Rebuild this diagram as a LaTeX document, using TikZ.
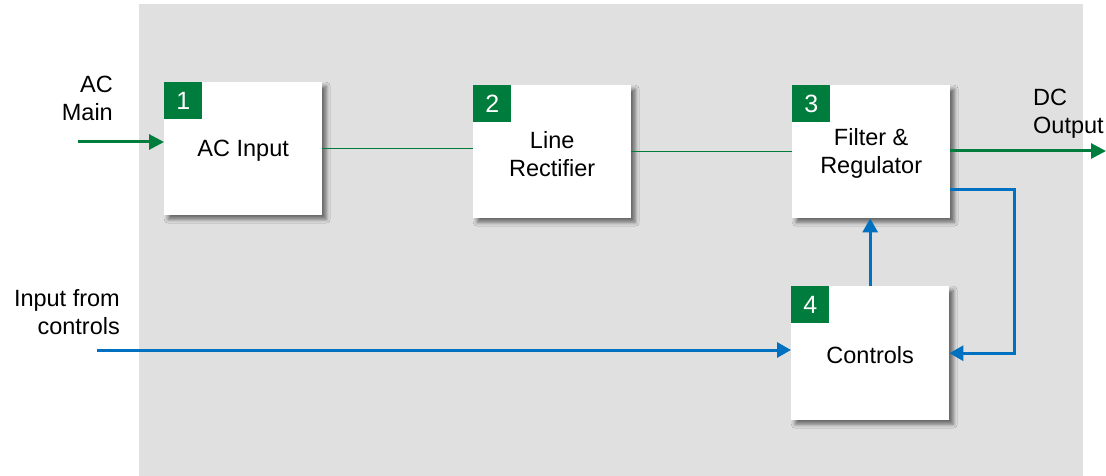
\documentclass[tikz,border=0pt]{standalone}
\usepackage{fontspec}
\setmainfont{Liberation Sans}
\usetikzlibrary{arrows.meta,shadows.blur,calc}
\definecolor{bggray}{HTML}{E0E0E0}
\definecolor{sgreen}{HTML}{007C3C}
\definecolor{sblue}{HTML}{0070C0}
\tikzset{
  blockbox/.style={draw=none,fill=white,minimum width=158pt,minimum height=133pt,inner sep=0pt,anchor=north west,
    blur shadow={shadow xshift=4pt,shadow yshift=-4pt,shadow blur radius=4pt,shadow opacity=55}},
  badge/.style={fill=sgreen,text=white,minimum width=38pt,minimum height=37pt,inner sep=0pt,anchor=north west,
    font=\fontsize{25}{28}\selectfont},
  txt/.style={font=\fontsize{23.5}{28}\selectfont},
  boxtxt/.style={txt,align=center,inner sep=0pt},
  gthick/.style={draw=sgreen,line width=3pt,-{Triangle[length=15pt,width=15pt]}},
  gthin/.style={draw=sgreen,line width=1.5pt},
  bline/.style={draw=sblue,line width=3pt,-{Triangle[length=14pt,width=15pt]}},
}
\begin{document}
\begin{tikzpicture}[x=1pt,y=-1pt]
\useasboundingbox (0,0) rectangle (1106,476);
\fill[bggray] (139,4) rectangle (1083,476);
\node[blockbox] (b1) at (164,82) {};
\node[blockbox] (b2) at (473,85) {};
\node[blockbox] (b3) at (792,85) {};
\node[blockbox,minimum height=134pt] (b4) at (791,286) {};
\node[boxtxt] (t1) at ($(b1.center)+(0,2)$) {AC Input};
\node[boxtxt] (t2) at ($(b2.center)+(0,2)$) {Line\\Rectifier};
\node[boxtxt] (t3) at ($(b3.center)+(0,2)$) {Filter \&\\Regulator};
\node[boxtxt] (t4) at ($(b4.center)+(0,2)$) {Controls};
\node[badge] (n1) at (b1.north west) {1};
\node[badge] (n2) at (b2.north west) {2};
\node[badge] (n3) at (b3.north west) {3};
\node[badge] (n4) at (b4.north west) {4};
\node[txt,align=right,anchor=east,inner sep=0pt] (lac) at (113,98) {AC\\Main};
\node[txt,align=left,anchor=west,inner sep=0pt] (ldc) at (1033,114) {DC\\Output};
\node[txt,align=right,anchor=east,inner sep=0pt] (lin) at (120,312) {Input from\\controls};
\coordinate (acin) at (78,142);
\coordinate (dcout) at (1106,151);
\coordinate (inctl) at (97,350);
\coordinate (fbs) at (950,189);
\coordinate (fbc) at (1014,189);
\draw[gthick] (acin) -- (acin -| b1.west);
\draw[gthin] (b1.east) -- (b1.east -| b2.west);
\draw[gthin] (b2.east) -- (b2.east -| b3.west);
\draw[gthick] (b3.east |- dcout) -- (dcout);
\draw[bline] (fbs) -- (fbc) |- (b4.east);
\draw[bline] (b4.north) -- (b4.north |- b3.south);
\draw[bline] (inctl) -- (inctl -| b4.west);
\end{tikzpicture}
\end{document}
